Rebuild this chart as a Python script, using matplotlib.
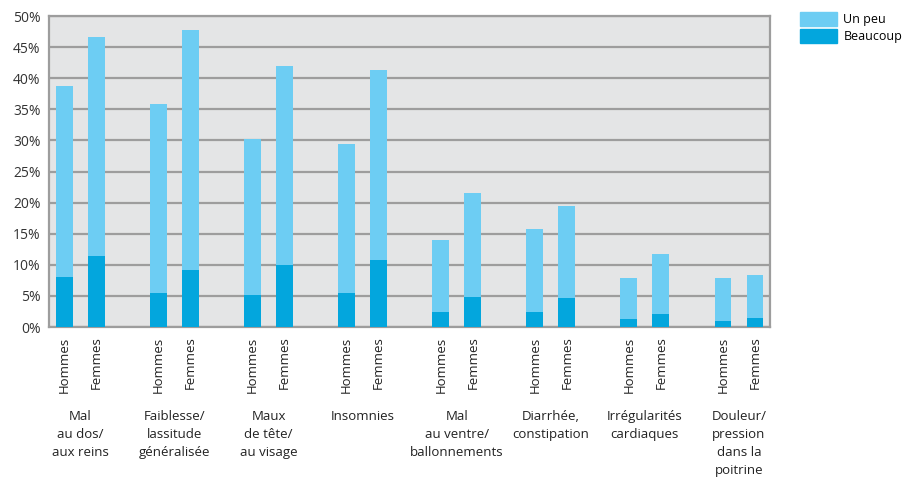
import numpy as np
import matplotlib.pyplot as plt
from matplotlib.patches import Patch

# data (percent)
categories = [
    "Mal\nau dos/\naux reins",
    "Faiblesse/\nlassitude\ngénéralisée",
    "Maux\nde tête/\nau visage",
    "Insomnies",
    "Mal\nau ventre/\nballonnements",
    "Diarrhée,\nconstipation",
    "Irrégularités\ncardiaques",
    "Douleur/\npression\ndans la\npoitrine",
]
sexes = ["Hommes", "Femmes"]
total_hommes = [38.7, 35.8, 30.3, 29.5, 14.0, 15.8, 7.9, 7.9]
total_femmes = [46.6, 47.8, 42.0, 41.4, 21.5, 19.4, 11.8, 8.3]
beaucoup_hommes = [8.1, 5.5, 5.1, 5.5, 2.5, 2.5, 1.3, 0.9]
beaucoup_femmes = [11.5, 9.2, 9.9, 10.8, 4.9, 4.7, 2.1, 1.5]
yticks = [0, 5, 10, 15, 20, 25, 30, 35, 40, 45, 50]

light = "#6dcdf3"
dark = "#03a6dd"
bg = "#e4e5e6"
grid = "#9d9d9d"

plt.rcParams["font.family"] = ["Open Sans", "DejaVu Sans"]

fig = plt.figure(figsize=(9.02, 4.86), dpi=100)
ax = fig.add_axes([0.0543, 0.327, 0.7994, 0.640])
ax.set_facecolor(bg)

x = np.arange(len(categories))
off = 0.17
w = 0.18
xh = x - off
xf = x + off

un_peu_h = np.array(total_hommes) - np.array(beaucoup_hommes)
un_peu_f = np.array(total_femmes) - np.array(beaucoup_femmes)

ax.bar(xh, beaucoup_hommes, width=w, color=dark, zorder=3)
ax.bar(xh, un_peu_h, width=w, bottom=beaucoup_hommes, color=light, zorder=3)
ax.bar(xf, beaucoup_femmes, width=w, color=dark, zorder=3)
ax.bar(xf, un_peu_f, width=w, bottom=beaucoup_femmes, color=light, zorder=3)

ax.set_xlim(-0.335, len(categories) - 1 + 0.33)
ax.set_ylim(0, 50)
ax.set_yticks(yticks)
ax.set_yticklabels([f"{t}%" for t in yticks], fontsize=10, color="#333333")
for t in yticks:
    ax.axhline(t, color=grid, lw=1.6, zorder=1)
ax.set_xticks([])
ax.tick_params(axis="y", length=0, pad=6)
for s in ax.spines.values():
    s.set_color(grid)
    s.set_linewidth(1.6)

tr = ax.get_xaxis_transform()
for i in range(len(categories)):
    ax.text(xh[i], -0.03, sexes[0], rotation=90, ha="center", va="top",
            fontsize=9.5, color="#222222", transform=tr)
    ax.text(xf[i], -0.03, sexes[1], rotation=90, ha="center", va="top",
            fontsize=9.5, color="#222222", transform=tr)
    ax.text(x[i], -0.265, categories[i], ha="center", va="top",
            fontsize=9.5, color="#222222", transform=tr, linespacing=1.5)

handles = [Patch(color=light, label="Un peu"), Patch(color=dark, label="Beaucoup")]
fig.legend(handles=handles, loc="upper left", bbox_to_anchor=(0.881, 0.985),
           frameon=False, fontsize=9, handlelength=3.0, handleheight=1.3,
           labelspacing=0.25, handletextpad=0.5, borderaxespad=0)

fig.savefig("out.png", dpi=100)
